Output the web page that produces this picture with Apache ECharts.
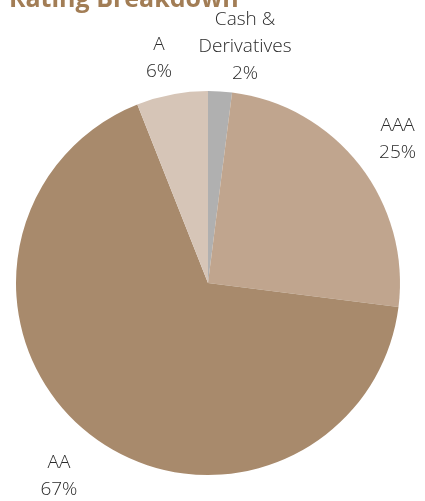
<!DOCTYPE html>
<html>
<head>
<meta charset="utf-8">
<script src="https://cdn.jsdelivr.net/npm/echarts@6/dist/echarts.min.js"></script>
<style>html,body{margin:0;padding:0;background:#fff;}#c{width:425px;height:501px;}</style>
</head>
<body>
<div id="c"></div>
<script>
var categories = ['Cash &\nDerivatives', 'AAA', 'AA', 'A'];
var values = [2, 25, 67, 6];
var colors = ['#b0b0b0', '#c0a58e', '#a88a6c', '#d6c5b7'];
var titleText = 'Rating Breakdown';

var chart = echarts.init(document.getElementById('c'));
var data = categories.map(function (n, i) {
  return { name: n, value: values[i], itemStyle: { color: colors[i] } };
});
chart.setOption({
  animation: false,
  title: {
    text: titleText,
    left: 4,
    top: -18,
    textStyle: { fontFamily: 'Open Sans', fontWeight: 'bold', fontSize: 25, color: '#a27d55' }
  },
  series: [{
    type: 'pie',
    center: [208, 283],
    radius: 192,
    startAngle: 90,
    clockwise: true,
    data: data,
    label: {
      show: true,
      position: 'outside',
      formatter: '{b}\n{d}%',
      fontFamily: 'Open Sans',
      fontWeight: 300,
      fontSize: 19,
      lineHeight: 27,
      color: '#2a2a2a',
      overflow: 'none'
    },
    labelLine: { show: true, length: 48, length2: 0, lineStyle: { opacity: 0 } },
    labelLayout: function (p) {
      var pts = p.labelLinePoints;
      if (!pts) return {};
      var dx = p.dataIndex === 0 ? 22 : (p.dataIndex === 3 ? -4 : (p.dataIndex === 2 ? -2 : 0));
      var dy = 3 + (p.dataIndex === 3 ? 8 : 0);
      return { x: pts[1][0] + dx, y: pts[1][1] + dy, align: 'center', verticalAlign: 'middle' };
    }
  }]
});
</script>
</body>
</html>
